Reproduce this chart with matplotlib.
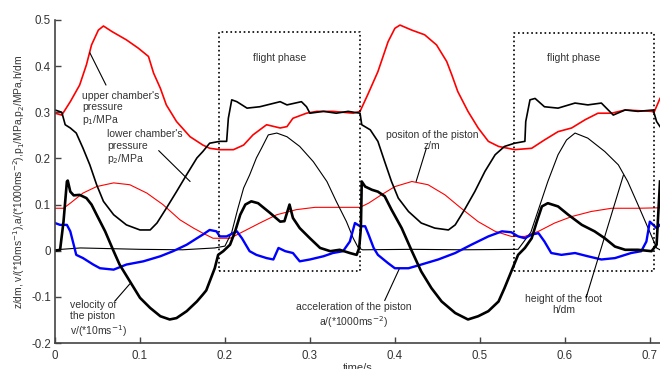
import matplotlib
matplotlib.use('Agg')
import matplotlib.pyplot as plt

plt.rcParams['font.family'] = ['Liberation Sans', 'DejaVu Sans']

# upper chamber pressure p1 (MPa)
p1_t = [0, .008, .018, .029, .037, .043, .051, .057, .067, .084, .098, .110, .116, .124, .131,
        .143, .159, .174, .182, .194, .210, .222, .233, .249, .265, .273, .280, .296, .308, .327,
        .351, .359, .368, .380, .392, .400, .406, .420, .435, .449, .461, .467, .474, .486, .498,
        .510, .522, .533, .541, .561, .576, .592, .608, .624, .639, .655, .671, .702, .705, .712]
p1_v = [.298, .294, .323, .359, .403, .446, .478, .487, .475, .457, .439, .421, .385, .352, .316,
        .280, .247, .229, .222, .219, .219, .229, .251, .273, .266, .269, .287, .298, .302, .302,
        .298, .302, .338, .388, .453, .482, .489, .478, .468, .446, .410, .381, .345, .302, .266,
        .237, .226, .222, .219, .222, .240, .258, .266, .284, .298, .298, .305, .302, .300, .330]

# lower chamber pressure p2 (MPa)
p2_t = [0, .008, .012, .018, .025, .033, .041, .049, .057, .069, .084, .100, .112, .120, .131,
        .143, .155, .167, .174, .182, .194, .202, .204, .208, .214, .226, .241, .265, .273, .290,
        .296, .300, .316, .331, .345, .359, .361, .371, .380, .388, .396, .404, .416, .431, .447,
        .463, .471, .482, .494, .506, .518, .529, .541, .553, .554, .559, .565, .576, .592, .612,
        .627, .643, .657, .671, .686, .704, .708, .712]
p2_v = [.305, .300, .273, .266, .255, .222, .186, .143, .107, .078, .056, .045, .045, .060, .092,
        .128, .165, .201, .215, .233, .237, .237, .287, .327, .323, .309, .312, .323, .316, .323,
        .312, .298, .302, .298, .302, .298, .273, .262, .237, .193, .150, .114, .085, .060, .049,
        .045, .056, .089, .128, .172, .208, .226, .233, .237, .280, .327, .330, .312, .309, .320,
        .316, .320, .294, .305, .302, .305, .280, .269]

# piston position z (dm)
z_t = [0, .010, .018, .033, .049, .069, .088, .108, .127, .147, .163, .174, .186, .206, .222,
       .241, .261, .284, .306, .327, .359, .369, .384, .400, .420, .439, .459, .478, .498, .518,
       .537, .553, .569, .588, .608, .631, .655, .686, .712]
z_v = [.092, .092, .103, .125, .139, .147, .143, .125, .100, .067, .049, .038, .027, .027, .042,
       .060, .078, .089, .094, .094, .094, .103, .121, .139, .150, .143, .121, .092, .063, .042,
       .031, .031, .042, .060, .074, .085, .092, .092, .093]

# foot height h (dm)
h_t = [0, .030, .100, .150, .188, .200, .208, .215, .222, .229, .237, .243, .251, .261, .273,
       .288, .304, .320, .331, .343, .351, .357, .362, .420, .480, .545, .560, .570, .580, .592,
       .602, .612, .627, .647, .663, .674, .686, .698, .708, .712]
h_v = [.002, .006, .003, .002, .006, .010, .040, .090, .136, .164, .201, .222, .251, .255, .247,
       .226, .193, .150, .107, .063, .027, .006, .002, .003, .002, .003, .040, .095, .150, .208,
       .240, .255, .244, .215, .186, .150, .100, .049, .006, .002]

# piston velocity v (*10 m/s)
v_t = [0, .006, .010, .014, .015, .018, .022, .029, .037, .043, .049, .059, .069, .076, .088,
       .100, .112, .124, .135, .143, .155, .167, .174, .178, .188, .192, .198, .206, .212, .218,
       .224, .231, .239, .253, .265, .270, .276, .280, .288, .300, .312, .324, .335, .347, .355,
       .358, .360, .361, .365, .373, .380, .388, .396, .408, .420, .431, .443, .455, .471, .486,
       .498, .510, .522, .529, .537, .545, .553, .561, .567, .573, .580, .592, .604, .620, .635,
       .647, .659, .671, .686, .702, .708, .712]
v_v = [0, .002, .063, .150, .152, .128, .120, .121, .114, .100, .078, .042, -.001, -.030, -.066,
       -.102, -.124, -.142, -.149, -.146, -.131, -.110, -.095, -.086, -.038, -.009, -.001, .013, .042, .078,
       .100, .107, .103, .082, .063, .064, .100, .071, .049, .027, .006, -.001, .002, -.005, -.009,
       .006, .050, .150, .139, .132, .128, .118, .089, .049, -.001, -.045, -.081, -.110, -.135, -.149,
       -.142, -.131, -.110, -.081, -.045, -.009, .006, .027, .063, .096, .103, .096, .078, .056, .042,
       .027, .009, .002, .002, -.001, .013, .150]

# piston acceleration a (*1000 m/s^2)
a_t = [0, .006, .014, .018, .022, .025, .033, .045, .053, .069, .084, .104, .124, .139, .155,
       .167, .174, .182, .190, .194, .202, .214, .220, .229, .237, .249, .257, .263, .271, .280,
       .288, .300, .316, .327, .339, .347, .353, .359, .365, .369, .375, .380, .392, .400, .416,
       .431, .451, .471, .490, .510, .526, .537, .545, .553, .561, .569, .576, .584, .596, .612,
       .627, .643, .659, .678, .690, .696, .700, .708, .712]
a_v = [.060, .056, .056, .042, .013, -.009, -.016, -.030, -.038, -.041, -.030, -.023, -.012, -.001, .013,
       .027, .035, .045, .042, .031, .031, .042, .027, -.001, -.009, -.016, -.019, .006, -.001, -.005,
       -.023, -.019, -.012, -.005, -.001, .020, .060, .053, .053, .035, .006, -.009, -.027, -.038, -.038,
       -.030, -.019, -.005, .013, .031, .042, .040, .031, .027, .035, .038, .020, -.005, -.009, -.005,
       -.012, -.019, -.016, -.005, -.001, .020, .063, .049, .056]

# flight phases
flight_start = [0.193, 0.540]
flight_end = [0.359, 0.705]
flight_low = [-0.043, -0.045]
flight_high = [0.474, 0.472]

fig = plt.figure(figsize=(6.6, 3.69), dpi=100)
ax = fig.add_axes([55 / 660, 26 / 369, 1 - 55 / 660, 323 / 369])

ax.plot(p1_t, p1_v, color='#ff0000', lw=1.2)
ax.plot(z_t, z_v, color='#ff0000', lw=0.8)
ax.plot(h_t, h_v, color='black', lw=0.8)
ax.plot(a_t, a_v, color='#0000ff', lw=1.7)
ax.plot(v_t, v_v, color='black', lw=1.9)
ax.plot(p2_t, p2_v, color='black', lw=1.2)

for x0, x1, y0, y1 in zip(flight_start, flight_end, flight_low, flight_high):
    ax.plot([x0, x1, x1, x0, x0], [y0, y0, y1, y1, y0], color='black', ls=':', lw=1.2)
    ax.text((x0 + x1) / 2 - 0.012, 0.418, 'flight phase', fontsize=7.5, color='#333333',
            ha='center', va='center')

tc = '#333333'
fs = 7.5
line = dict(arrowstyle='-', color='black', lw=0.8, shrinkA=0, shrinkB=0)
ax.text(0.032, 0.307, "upper chamber's\npressure\np$_1$/MPa", fontsize=fs, color=tc,
        ha='left', va='center', linespacing=1.15)
ax.annotate('', xy=(0.041, 0.429), xytext=(0.060, 0.359), arrowprops=line)
ax.text(0.061, 0.223, "lower chamber's\npressure\np$_2$/MPa", fontsize=fs, color=tc,
        ha='left', va='center', linespacing=1.15)
ax.annotate('', xy=(0.122, 0.217), xytext=(0.159, 0.150), arrowprops=line)
ax.text(0.018, -0.149, "velocity of\nthe piston\nv/(*10ms$^{-1}$)", fontsize=fs, color=tc,
        ha='left', va='center', linespacing=1.15)
ax.annotate('', xy=(0.088, -0.072), xytext=(0.071, -0.108), arrowprops=line)
ax.text(0.351, -0.142, "acceleration of the piston\na/(*1000ms$^{-2}$)", fontsize=fs, color=tc,
        ha='center', va='center', linespacing=1.15, multialignment='center')
ax.annotate('', xy=(0.405, -0.040), xytext=(0.388, -0.108), arrowprops=line)
ax.text(0.444, 0.238, "positon of the piston\nz/m", fontsize=fs, color=tc,
        ha='center', va='center', linespacing=1.15, multialignment='center')
ax.annotate('', xy=(0.425, 0.150), xytext=(0.437, 0.222), arrowprops=line)
ax.text(0.599, -0.117, "height of the foot\nh/dm", fontsize=fs, color=tc,
        ha='center', va='center', linespacing=1.15, multialignment='center')
ax.annotate('', xy=(0.669, 0.164), xytext=(0.625, -0.102), arrowprops=line)

ax.set_xlim(0, 0.712)
ax.set_ylim(-0.2, 0.5)
ax.set_xticks([0, 0.1, 0.2, 0.3, 0.4, 0.5, 0.6, 0.7])
ax.set_xticklabels(['0', '0.1', '0.2', '0.3', '0.4', '0.5', '0.6', '0.7'])
ax.set_yticks([-0.2, -0.1, 0, 0.1, 0.2, 0.3, 0.4, 0.5])
ax.set_yticklabels(['-0.2', '-0.1', '0', '0.1', '0.2', '0.3', '0.4', '0.5'])
ax.spines['top'].set_visible(False)
ax.spines['right'].set_visible(False)
for s in ['left', 'bottom']:
    ax.spines[s].set_color('#444444')
    ax.spines[s].set_linewidth(1.2)
ax.tick_params(direction='in', length=4, width=1, colors='#444444', labelsize=8.3,
               labelcolor='#333333')
ax.tick_params(axis='y', pad=3)
ax.tick_params(axis='x', pad=5)
ax.set_xlabel('time/s', fontsize=8, color='#333333', labelpad=1)
ax.set_ylabel('z/dm, v/(*10ms$^{-1}$),a/(*1000ms$^{-2}$),p$_1$/MPa,p$_2$/MPa,h/dm',
              fontsize=7.4, color='#333333', labelpad=3)

fig.savefig('out.png', dpi=100)
